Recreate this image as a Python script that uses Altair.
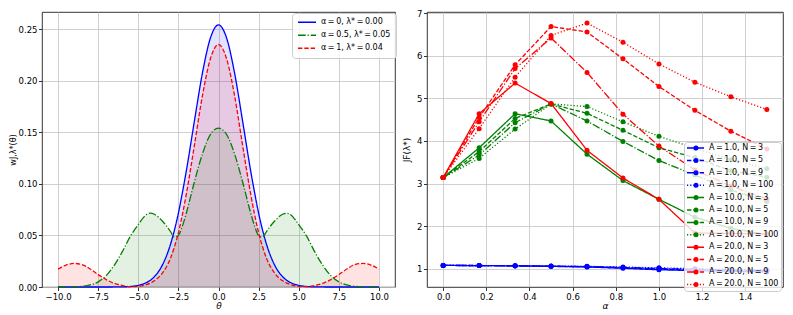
import altair as alt
import pandas as pd

# ---------------- Left panel data ----------------
theta = [-10, -9.5, -9, -8.5, -8, -7.5, -7, -6.5, -6, -5.5, -5, -4.5, -4.25, -4, -3.5, -3, -2.75, -2.5, -2.25, -2,
         -1.5, -1, -0.5, 0, 0.5, 1, 1.5, 2, 2.25, 2.5, 2.75, 3, 3.5, 4, 4.25, 4.5, 5, 5.5, 6, 6.5, 7, 7.5, 8,
         8.5, 9, 9.5, 10]
w_alpha0 = [0, 0, 0, 0, 0, 0, 0, 0.00004, 0.00015, 0.0005, 0.0016, 0.0042, 0.0065, 0.0099, 0.0212, 0.041, 0.0549,
            0.0716, 0.0915, 0.113, 0.161, 0.2075, 0.2415, 0.254, 0.2415, 0.2075, 0.161, 0.113, 0.0915, 0.0716,
            0.0549, 0.041, 0.0212, 0.0099, 0.0065, 0.0042, 0.0016, 0.0005, 0.00015, 0.00004, 0, 0, 0, 0, 0, 0, 0]
w_alpha05 = [0.0, 0.0001, 0.0002, 0.0007, 0.002, 0.005, 0.011, 0.021, 0.034, 0.049, 0.0605, 0.070, 0.0715, 0.0705,
             0.064, 0.054, 0.0485, 0.050, 0.059, 0.072, 0.102, 0.129, 0.148, 0.154, 0.148, 0.129, 0.102, 0.072,
             0.059, 0.050, 0.0485, 0.054, 0.064, 0.0705, 0.0715, 0.070, 0.0605, 0.049, 0.034, 0.021, 0.011, 0.005,
             0.002, 0.0007, 0.0002, 0.0001, 0.0]
w_alpha1 = [0.0173, 0.0213, 0.0228, 0.0217, 0.0175, 0.012, 0.0072, 0.0036, 0.0015, 0.0004, 0.0006, 0.0023, 0.0038,
            0.006, 0.0135, 0.0275, 0.0387, 0.0525, 0.0702, 0.0905, 0.1375, 0.1855, 0.2215, 0.235, 0.2215, 0.1855,
            0.1375, 0.0905, 0.0702, 0.0525, 0.0387, 0.0275, 0.0135, 0.006, 0.0038, 0.0023, 0.0006, 0.0004, 0.0015,
            0.0036, 0.0072, 0.012, 0.0175, 0.0217, 0.0228, 0.0213, 0.0173]

T = "\u2009"  # thin space, as in the math-text legend labels
curve_names = [f"α{T}={T}0, λ*{T}={T}0.00", f"α{T}={T}0.5, λ*{T}={T}0.05", f"α{T}={T}1, λ*{T}={T}0.04"]
curve_colors = ["#0000ff", "#008000", "#ff0000"]
curve_dashes = [[1, 0], [7.7, 1.9, 1.2, 1.9], [4.4, 1.9]]

# ---------------- Right panel data ----------------
alpha_vals = [0.0, 0.1667, 0.3333, 0.5, 0.6667, 0.8333, 1.0, 1.1667, 1.3333, 1.5]
jf_A1_N3 = [1.077, 1.073, 1.066, 1.055, 1.040, 1.010, 0.975, 0.955, 0.940, 0.925]
jf_A1_N5 = [1.077, 1.074, 1.067, 1.058, 1.045, 1.020, 0.990, 0.970, 0.955, 0.940]
jf_A1_N9 = [1.077, 1.074, 1.068, 1.060, 1.050, 1.030, 1.005, 0.985, 0.970, 0.955]
jf_A1_N100 = [1.077, 1.075, 1.070, 1.063, 1.055, 1.040, 1.020, 1.000, 0.985, 0.970]
jf_A10_N3 = [3.14, 3.84, 4.64, 4.47, 3.69, 3.07, 2.63, 2.21, 1.95, 1.80]
jf_A10_N5 = [3.14, 3.75, 4.53, 4.87, 4.65, 4.25, 3.84, 3.61, 3.30, 3.15]
jf_A10_N9 = [3.14, 3.67, 4.43, 4.87, 4.47, 3.99, 3.54, 3.20, 2.85, 2.58]
jf_A10_N100 = [3.14, 3.59, 4.28, 4.87, 4.81, 4.45, 4.11, 3.83, 3.56, 3.35]
jf_A20_N3 = [3.14, 4.64, 5.36, 4.88, 3.78, 3.13, 2.63, 1.84, 1.83, 1.82]
jf_A20_N5 = [3.14, 4.55, 5.79, 6.69, 6.56, 5.93, 5.28, 4.72, 4.23, 3.81]
jf_A20_N9 = [3.14, 4.45, 5.70, 6.42, 5.61, 4.63, 3.88, 3.32, 2.94, 2.64]
jf_A20_N100 = [3.14, 4.29, 5.50, 6.48, 6.77, 6.32, 5.81, 5.38, 5.04, 4.74]

A_labels = ["1.0", "10.0", "20.0"]
N_labels = ["3", "5", "9", "100"]
series_names = [f"A{T}={T}{a}, N{T}={T}{n}" for a in A_labels for n in N_labels]
series_values = [jf_A1_N3, jf_A1_N5, jf_A1_N9, jf_A1_N100,
                 jf_A10_N3, jf_A10_N5, jf_A10_N9, jf_A10_N100,
                 jf_A20_N3, jf_A20_N5, jf_A20_N9, jf_A20_N100]
series_colors = ["#0000ff"] * 4 + ["#008000"] * 4 + ["#ff0000"] * 4
dash_by_N = [[1, 0], [4.4, 1.9], [7.7, 1.9, 1.2, 1.9], [1.2, 2.0]]
series_dashes = dash_by_N * 3

ZW = "\u200b"  # second key so the layers' own scales and legends stay apart
curve_fill_names = [n + ZW for n in curve_names]
series_dot_names = [n + ZW for n in series_names]

# ---------------- Build tables ----------------
left_rows = []
for name, vals in zip(curve_names, [w_alpha0, w_alpha05, w_alpha1]):
    for t, v in zip(theta, vals):
        left_rows.append({"theta": t, "w": v, "curve": name, "curve_fill": name + ZW})
left_df = pd.DataFrame(left_rows)

right_rows = []
for name, vals in zip(series_names, series_values):
    for a, v in zip(alpha_vals, vals):
        right_rows.append({"alpha": a, "jf": v, "series": name, "series_dot": name + ZW})
right_df = pd.DataFrame(right_rows)

FONT = "DejaVu Sans"
LW = 1.3
PH = 275

# ---------------- Left panel ----------------
xl = alt.Scale(domain=[-11, 11], nice=False, zero=False)
yl = alt.Scale(domain=[0, 0.2665], nice=False, zero=False)
xl_axis = alt.Axis(values=[-10, -7.5, -5, -2.5, 0, 2.5, 5, 7.5, 10], format=".1f", title="θ",
                   titleFontStyle="italic", labelFlush=False, labelOverlap=False)
yl_axis = alt.Axis(values=[0, 0.05, 0.1, 0.15, 0.2, 0.25], format=".2f", title="wJ,λ*(θ)",
                   titlePadding=1, titleFontSize=8, labelOverlap=False)

left_base = alt.Chart(left_df)
left_area = left_base.mark_area(fillOpacity=0.11, interpolate="monotone").encode(
    x=alt.X("theta:Q", scale=xl, axis=xl_axis),
    y=alt.Y("w:Q", scale=yl, axis=yl_axis, stack=None),
    fill=alt.Fill("curve_fill:N", scale=alt.Scale(domain=curve_fill_names, range=curve_colors), legend=None),
)
left_legend = alt.Legend(title=None, orient="none", legendX=250, legendY=1, symbolType="stroke",
                         symbolSize=324, symbolStrokeWidth=1.5, clipHeight=8.5, labelFont=FONT,
                         labelFontSize=8, labelColor="black", fillColor="rgba(255,255,255,0.8)",
                         strokeColor="#cccccc", padding=5, cornerRadius=3, rowPadding=4, labelOffset=4)
left_line = left_base.mark_line(strokeWidth=LW, interpolate="monotone").encode(
    x=alt.X("theta:Q", scale=xl, axis=xl_axis),
    y=alt.Y("w:Q", scale=yl, axis=yl_axis),
    color=alt.Color("curve:N", scale=alt.Scale(domain=curve_names, range=curve_colors), legend=left_legend),
    strokeDash=alt.StrokeDash("curve:N", scale=alt.Scale(domain=curve_names, range=curve_dashes),
                              legend=left_legend),
)
left = alt.layer(left_area, left_line).properties(width=353, height=PH)

# ---------------- Right panel ----------------
xr = alt.Scale(domain=[-0.075, 1.575], nice=False, zero=False)
yr = alt.Scale(domain=[0.57, 7.03], nice=False, zero=False)
xr_axis = alt.Axis(values=[0, 0.2, 0.4, 0.6, 0.8, 1.0, 1.2, 1.4], format=".1f", title="α",
                   titleFontStyle="italic", labelFlush=False, labelOverlap=False)
yr_axis = alt.Axis(values=[1, 2, 3, 4, 5, 6, 7], format="d", title="JF(λ*)", titlePadding=5,
                   labelOverlap=False)

LX, LY = 257, 130
common_leg = dict(title=None, orient="none", legendX=LX, legendY=LY, clipHeight=8, labelFont=FONT,
                  labelFontSize=8, padding=2, rowPadding=4.4, labelOffset=4)
line_legend = alt.Legend(symbolType="stroke", symbolSize=289, symbolStrokeWidth=1.5, labelColor="black",
                         fillColor="rgba(255,255,255,0.8)", strokeColor="#cccccc", cornerRadius=3,
                         **common_leg)
dot_legend = alt.Legend(symbolType="circle", symbolSize=25, symbolStrokeWidth=0, labelOpacity=0,
                        symbolOffset=6, **common_leg)

right_base = alt.Chart(right_df)
right_line = right_base.mark_line(strokeWidth=LW).encode(
    x=alt.X("alpha:Q", scale=xr, axis=xr_axis),
    y=alt.Y("jf:Q", scale=yr, axis=yr_axis),
    color=alt.Color("series:N", scale=alt.Scale(domain=series_names, range=series_colors),
                    legend=line_legend),
    strokeDash=alt.StrokeDash("series:N", scale=alt.Scale(domain=series_names, range=series_dashes),
                              legend=line_legend),
)
right_pts = right_base.mark_circle(size=25, opacity=1).encode(
    x=alt.X("alpha:Q", scale=xr, axis=xr_axis),
    y=alt.Y("jf:Q", scale=yr, axis=yr_axis),
    fill=alt.Fill("series_dot:N", scale=alt.Scale(domain=series_dot_names, range=series_colors),
                  legend=dot_legend),
)
right = alt.layer(right_line, right_pts).properties(width=356, height=PH)

chart = alt.hconcat(left, right, spacing=5).resolve_scale(
    color="independent", strokeDash="independent", fill="independent"
).resolve_legend(
    color="independent", strokeDash="independent", fill="independent"
).properties(
    padding={"left": 0, "top": 0, "right": 0, "bottom": 0}
).configure(font=FONT).configure_view(
    stroke="black", strokeWidth=0.8
).configure_axis(
    grid=True, gridColor="#c4c4c4", gridWidth=0.8, domain=False,
    tickColor="black", tickSize=3.5, tickWidth=0.8,
    labelFont=FONT, labelFontSize=8.5, labelColor="black", labelPadding=1.5,
    titleFont=FONT, titleFontSize=9, titleFontWeight="normal", titleColor="black", titlePadding=1,
)

chart.save("out.html", embed_options={"renderer": "svg", "actions": False})
